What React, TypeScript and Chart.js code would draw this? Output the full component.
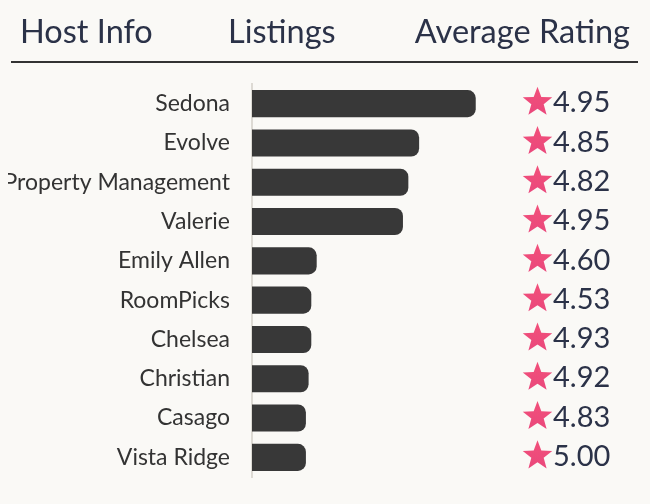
import React, { useEffect, useRef } from "react";
import { Chart, registerables } from "chart.js";

Chart.register(...registerables);

const hosts = [
  "Sedona",
  "Evolve",
  "Property Management",
  "Valerie",
  "Emily Allen",
  "RoomPicks",
  "Chelsea",
  "Christian",
  "Casago",
  "Vista Ridge",
];
const listings = [83, 62, 58, 56, 24, 22, 22, 21, 20, 20];
const ratings = [4.95, 4.85, 4.82, 4.95, 4.6, 4.53, 4.93, 4.92, 4.83, 5.0];
const headers = ["Host Info", "Listings", "Average Rating"];

const BG = "#faf9f6";
const NAVY = "#2b3248";
const FONT = "Lato";

function drawStar(ctx: CanvasRenderingContext2D, cx: number, cy: number, R: number, r: number) {
  ctx.beginPath();
  for (let i = 0; i < 10; i++) {
    const rad = i % 2 === 0 ? R : r;
    const a = -Math.PI / 2 + (i * Math.PI) / 5;
    const x = cx + rad * Math.cos(a);
    const y = cy + rad * Math.sin(a);
    if (i === 0) ctx.moveTo(x, y);
    else ctx.lineTo(x, y);
  }
  ctx.closePath();
  const g = ctx.createLinearGradient(0, cy - R, 0, cy + R);
  g.addColorStop(0, "#f2507a");
  g.addColorStop(1, "#e9477c");
  ctx.fillStyle = g;
  ctx.fill();
}

const ratingPlugin = {
  id: "ratings",
  afterDatasetsDraw(chart: any) {
    const ctx = chart.ctx as CanvasRenderingContext2D;
    const yScale = chart.scales.y;
    const starX = chart.chartArea.right + 37.5;
    const textX = chart.chartArea.right + 53;
    ctx.save();
    ratings.forEach((r, i) => {
      const py = yScale.getPixelForValue(i);
      drawStar(ctx, starX, py - 1.5, 15.5, 6.5);
      ctx.fillStyle = NAVY;
      ctx.font = `29px ${FONT}`;
      ctx.textAlign = "left";
      ctx.textBaseline = "alphabetic";
      ctx.fillText(r.toFixed(2), textX, py + 8.7);
    });
    ctx.restore();
  },
};

export default function App() {
  const ref = useRef<HTMLCanvasElement>(null);
  useEffect(() => {
    document.body.style.background = BG;
    const chart = new Chart(ref.current!, {
      type: "bar",
      data: {
        labels: hosts,
        datasets: [
          {
            data: listings,
            backgroundColor: "#383838",
            borderRadius: 8,
            borderSkipped: "start",
            barPercentage: 0.69,
            categoryPercentage: 1,
          },
        ],
      },
      options: {
        indexAxis: "y",
        responsive: false,
        animation: false,
        layout: { padding: { top: 76, bottom: 19, right: 142, left: 0 } },
        plugins: { legend: { display: false }, tooltip: { enabled: false } },
        scales: {
          x: { display: false, min: 0, max: 92 },
          y: {
            grid: { display: false, drawTicks: true, tickLength: 22 },
            border: { display: true, color: "#dddad4", width: 2 },
            ticks: {
              color: "#333333",
              font: { size: 23, family: FONT },
              padding: 0,
              autoSkip: false,
            },
            afterFit: (s: any) => {
              s.width = 244;
            },
          },
        },
      },
      plugins: [ratingPlugin],
    } as any);
    return () => chart.destroy();
  }, []);

  const hStyle: React.CSSProperties = {
    position: "absolute",
    top: 6,
    fontFamily: FONT,
    fontSize: 32.5,
    lineHeight: "33px",
    color: NAVY,
    whiteSpace: "nowrap",
  };

  return (
    <div style={{ position: "relative", width: 634, height: 488, background: BG }}>
      <canvas ref={ref} width={634} height={488} style={{ position: "absolute", left: 0, top: 0 }} />
      <div style={{ ...hStyle, left: 12 }}>{headers[0]}</div>
      <div style={{ ...hStyle, left: 220 }}>{headers[1]}</div>
      <div style={{ ...hStyle, right: 12 }}>{headers[2]}</div>
      <div
        style={{
          position: "absolute",
          left: 3,
          top: 53,
          width: 627,
          height: 2,
          background: "#333333",
        }}
      />
    </div>
  );
}
